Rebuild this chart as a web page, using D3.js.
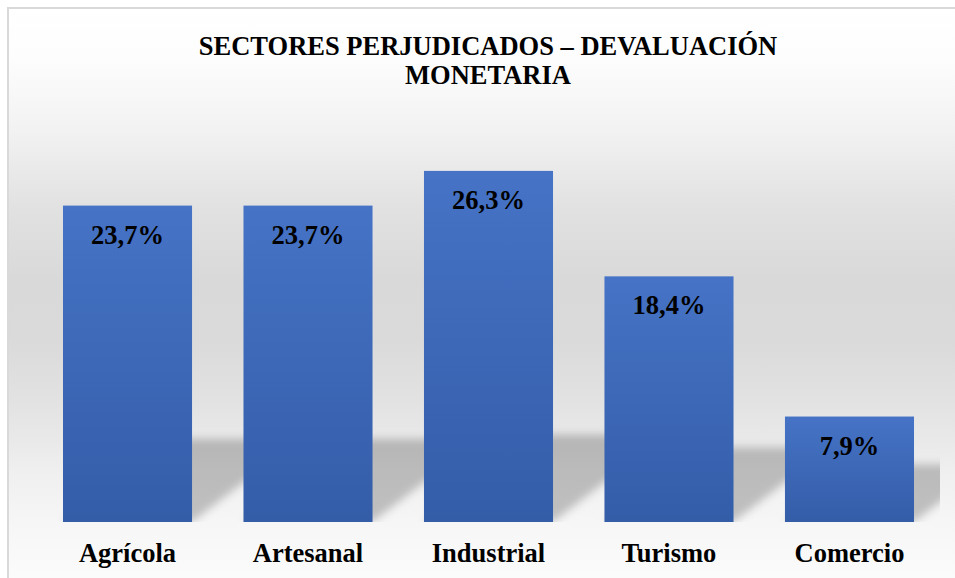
<!DOCTYPE html>
<html>
<head>
<meta charset="utf-8">
<script src="https://cdnjs.cloudflare.com/ajax/libs/d3/7.8.5/d3.min.js"></script>
<style>
  body { margin: 0; background: white; }
</style>
</head>
<body>
<script>
// chart data
var sectores = ["Agrícola", "Artesanal", "Industrial", "Turismo", "Comercio"];
var porcentajes = [23.7, 23.7, 26.3, 18.4, 7.9];
var etiquetas = ["23,7%", "23,7%", "26,3%", "18,4%", "7,9%"];
var titulo = ["SECTORES PERJUDICADOS – DEVALUACIÓN", "MONETARIA"];

window.onload = function() {
  var w = 955;
  var h = 578;
  var margin = {top: 121.5, right: 15, bottom: 56, left: 37};
  var base = h - margin.bottom;
  var fontFamily = "'Liberation Serif', 'Times New Roman', serif";
  var fontSize = "26.5px";

  var svg = d3.select("body")
              .append("svg")
              .attr("width", w)
              .attr("height", h);

  var defs = svg.append("defs");

  // wall + floor background gradient
  var bg = defs.append("linearGradient")
               .attr("id", "bg")
               .attr("gradientUnits", "userSpaceOnUse")
               .attr("x1", 0).attr("y1", 8)
               .attr("x2", 0).attr("y2", h);
  var bgStops = [[8, "#ffffff"], [60, "#fdfdfd"], [130, "#f2f2f2"], [210, "#e1e1e1"],
                 [280, "#d9d9d9"], [340, "#dadada"], [400, "#e2e2e2"], [440, "#e9e9e9"],
                 [470, "#efefef"], [522, "#f6f6f6"], [578, "#fbfbfb"]];
  bg.selectAll("stop")
    .data(bgStops)
    .enter().append("stop")
      .attr("offset", function(d) { return (d[0] - 8) / (h - 8); })
      .attr("stop-color", function(d) { return d[1]; });

  // bar gradient
  var barGrad = defs.append("linearGradient")
                    .attr("id", "barGrad")
                    .attr("x1", 0).attr("y1", 0)
                    .attr("x2", 0).attr("y2", 1);
  barGrad.append("stop").attr("offset", 0).attr("stop-color", "#4673c6");
  barGrad.append("stop").attr("offset", 1).attr("stop-color", "#345da8");

  // blur for floor shadows
  defs.append("filter")
      .attr("id", "blur")
      .attr("x", "-20%").attr("y", "-30%")
      .attr("width", "140%").attr("height", "160%")
    .append("feGaussianBlur")
      .attr("stdDeviation", 4);

  defs.append("clipPath")
      .attr("id", "plotClip")
    .append("rect")
      .attr("x", margin.left)
      .attr("y", 0)
      .attr("width", w - margin.right - margin.left)
      .attr("height", base);

  // chart area with frame
  svg.append("rect")
     .attr("x", 8)
     .attr("y", 8)
     .attr("width", w + 20)
     .attr("height", h + 20)
     .style("fill", "url(#bg)")
     .style("stroke", "#d9d9d9")
     .style("stroke-width", 2);

  // scales
  var xScale = d3.scaleBand()
                 .domain(sectores)
                 .range([margin.left, w - margin.right])
                 .paddingInner(0.285)
                 .paddingOuter(0.144);

  var yScale = d3.scaleLinear()
                 .domain([0, 30])
                 .range([base, margin.top]);

  var data = sectores.map(function(s, i) {
    return {sector: s, valor: porcentajes[i], etiqueta: etiquetas[i]};
  });

  // perspective shadows on the floor
  svg.append("g")
     .attr("clip-path", "url(#plotClip)")
    .append("g")
     .attr("filter", "url(#blur)")
    .selectAll("polygon")
      .data(data)
    .enter().append("polygon")
      .attr("points", function(d) {
        var x0 = xScale(d.sector);
        var x1 = x0 + xScale.bandwidth();
        var bh = base - yScale(d.valor);
        var dy = 45 + 0.12 * bh;
        var dx = 1.3 * dy;
        return [[x0, base], [x1, base], [x1 + dx, base - dy], [x0 + dx, base - dy]].join(" ");
      })
      .style("fill", "black")
      .style("opacity", 0.22);

  // bars
  svg.selectAll(".bar")
     .data(data)
     .enter().append("rect")
      .attr("class", "bar")
      .attr("x", function(d) { return xScale(d.sector); })
      .attr("y", function(d) { return yScale(d.valor); })
      .attr("width", xScale.bandwidth())
      .attr("height", function(d) { return base - yScale(d.valor); })
      .style("fill", "url(#barGrad)");

  // value labels
  svg.selectAll(".valor")
     .data(data)
     .enter().append("text")
      .attr("class", "valor")
      .attr("x", function(d) { return xScale(d.sector) + xScale.bandwidth() / 2; })
      .attr("y", function(d) { return yScale(d.valor) + 38; })
      .attr("text-anchor", "middle")
      .style("font-family", fontFamily)
      .style("font-weight", "bold")
      .style("font-size", fontSize)
      .style("fill", "black")
      .text(function(d) { return d.etiqueta; });

  // category axis (labels only)
  var xAxis = svg.append("g")
                 .attr("transform", "translate(0," + base + ")")
                 .call(d3.axisBottom(xScale).tickSize(0).tickPadding(0));
  xAxis.select(".domain").remove();
  xAxis.selectAll("text")
       .attr("dy", null)
       .attr("y", 40)
       .style("font-size", fontSize)
       .style("font-family", fontFamily)
       .style("font-weight", "bold")
       .attr("fill", "black");

  // title
  svg.selectAll(".titulo")
     .data(titulo)
     .enter().append("text")
      .attr("class", "titulo")
      .attr("x", 488)
      .attr("y", function(d, i) { return 55 + i * 29; })
      .attr("text-anchor", "middle")
      .style("font-family", fontFamily)
      .style("font-weight", "bold")
      .style("font-size", fontSize)
      .style("fill", "black")
      .text(function(d) { return d; });
}
</script>
</body>
</html>
